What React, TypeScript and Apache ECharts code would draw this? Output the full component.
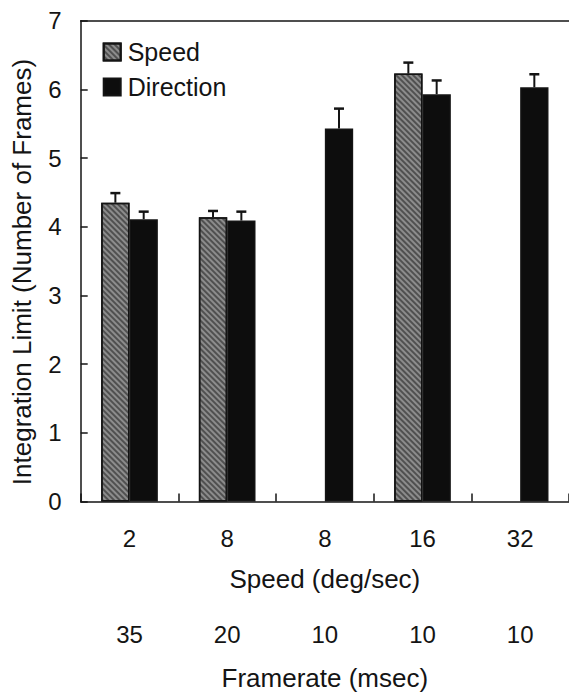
import React, { useEffect, useRef } from "react";
import * as echarts from "echarts";

const speedLabels = ["2", "8", "8", "16", "32"];
const framerateLabels = ["35", "20", "10", "10", "10"];
const speedValues: (number | null)[] = [4.35, 4.14, null, 6.23, null];
const speedErrTop: (number | null)[] = [4.49, 4.23, null, 6.39, null];
const directionValues: number[] = [4.11, 4.09, 5.43, 5.93, 6.03];
const directionErrTop: number[] = [4.22, 4.22, 5.72, 6.13, 6.22];
const yTicks = [0, 1, 2, 3, 4, 5, 6, 7];

const FONT = '"Liberation Sans", Arial, Helvetica, sans-serif';
const INK = "#141414";

export default function App() {
  const ref = useRef<HTMLDivElement>(null);
  useEffect(() => {
    if (!ref.current) return;
    const chart = echarts.init(ref.current, undefined, { renderer: "svg" });
    const cats = speedLabels.map((_, i) => "c" + i);
    const BAR_FRAC = 0.29;

    const errData: any[] = [];
    speedValues.forEach((v, i) => {
      if (v != null && speedErrTop[i] != null) errData.push([i, v, speedErrTop[i], -BAR_FRAC / 2]);
    });
    directionValues.forEach((v, i) => {
      errData.push([i, v, directionErrTop[i], BAR_FRAC / 2]);
    });

    const option: any = {
      animation: false,
      backgroundColor: "#ffffff",
      textStyle: { fontFamily: FONT, color: INK },
      grid: { left: 80.7, top: 20.7, width: 490, height: 480.8, show: false },
      legend: {
        orient: "vertical",
        left: 102.7,
        top: 39.5,
        padding: 0,
        itemWidth: 17,
        itemHeight: 17,
        itemGap: 10,
        textStyle: { fontSize: 25, fontFamily: FONT, color: INK, padding: [0, 0, 0, 2] },
        data: [
          { name: "Speed", icon: "rect" },
          { name: "Direction", icon: "rect" },
        ],
      },
      xAxis: [
        {
          type: "category",
          data: cats,
          position: "bottom",
          axisLine: { show: true, lineStyle: { color: INK, width: 1.5 } },
          axisTick: { show: true, inside: true, length: 8, alignWithLabel: false, lineStyle: { color: INK, width: 1.5 } },
          axisLabel: { fontSize: 24, fontFamily: FONT, color: INK, margin: 24.5, formatter: (_: string, i: number) => speedLabels[i] },
          name: "Speed (deg/sec)",
          nameLocation: "middle",
          nameGap: 64.5,
          nameTextStyle: { fontSize: 26, fontFamily: FONT, color: INK },
          splitLine: { show: false },
        },
        {
          type: "category",
          data: cats,
          position: "bottom",
          offset: 96,
          axisLine: { show: false },
          axisTick: { show: false },
          axisLabel: { fontSize: 24, fontFamily: FONT, color: INK, margin: 24.5, formatter: (_: string, i: number) => framerateLabels[i] },
          name: "Framerate (msec)",
          nameLocation: "middle",
          nameGap: 67.5,
          nameTextStyle: { fontSize: 26, fontFamily: FONT, color: INK },
          splitLine: { show: false },
        },
        {
          type: "category",
          data: cats,
          position: "top",
          axisLine: { show: true, lineStyle: { color: INK, width: 1.5 } },
          axisTick: { show: false },
          axisLabel: { show: false },
          splitLine: { show: false },
        },
      ],
      yAxis: {
        type: "value",
        min: yTicks[0],
        max: yTicks[yTicks.length - 1],
        interval: 1,
        axisLine: { show: true, lineStyle: { color: INK, width: 1.5 } },
        axisTick: { show: true, inside: true, length: 7, lineStyle: { color: INK, width: 1.5 } },
        axisLabel: { fontSize: 24, fontFamily: FONT, color: INK, margin: 19 },
        splitLine: { show: false },
      },
      graphic: [
        {
          type: "text",
          x: 21.7,
          y: 272,
          rotation: Math.PI / 2,
          style: {
            text: "Integration Limit (Number of Frames)",
            fontSize: 26,
            fontFamily: FONT,
            fill: INK,
            textAlign: "center",
            textVerticalAlign: "middle",
          },
        },
      ],
      series: [
        {
          name: "Speed",
          type: "bar",
          xAxisIndex: 0,
          data: speedValues,
          barWidth: BAR_FRAC * 100 + "%",
          barGap: "0%",
          itemStyle: {
            color: "#8c8c8c",
            borderColor: INK,
            borderWidth: 1.5,
            decal: {
              symbol: "rect",
              symbolSize: 1,
              dashArrayX: [1, 0],
              dashArrayY: [1.2, 1.6],
              rotation: Math.PI / 4,
              color: "rgba(30,30,30,0.55)",
            },
          },
        },
        {
          name: "Direction",
          type: "bar",
          xAxisIndex: 0,
          data: directionValues,
          barWidth: BAR_FRAC * 100 + "%",
          barGap: "0%",
          itemStyle: { color: "#0d0d0d", borderColor: INK, borderWidth: 1.5 },
        },
        {
          name: "err",
          type: "custom",
          xAxisIndex: 0,
          z: 5,
          data: errData,
          encode: { x: 0, y: [1, 2] },
          renderItem: (params: any, api: any) => {
            const idx = api.value(0);
            const v = api.value(1);
            const top = api.value(2);
            const off = api.value(3);
            const band = api.size([1, 0])[0];
            const p0 = api.coord([idx, v]);
            const p1 = api.coord([idx, top]);
            const x = p0[0] + off * band;
            const cap = 5;
            return {
              type: "group",
              children: [
                { type: "line", shape: { x1: x, y1: p0[1], x2: x, y2: p1[1] }, style: { stroke: INK, lineWidth: 2 } },
                { type: "line", shape: { x1: x - cap, y1: p1[1], x2: x + cap, y2: p1[1] }, style: { stroke: INK, lineWidth: 2.5 } },
              ],
            };
          },
        },
      ],
    };
    chart.setOption(option);
    return () => chart.dispose();
  }, []);
  return <div ref={ref} style={{ position: "fixed", left: 0, top: 0, width: 569, height: 696 }} />;
}
